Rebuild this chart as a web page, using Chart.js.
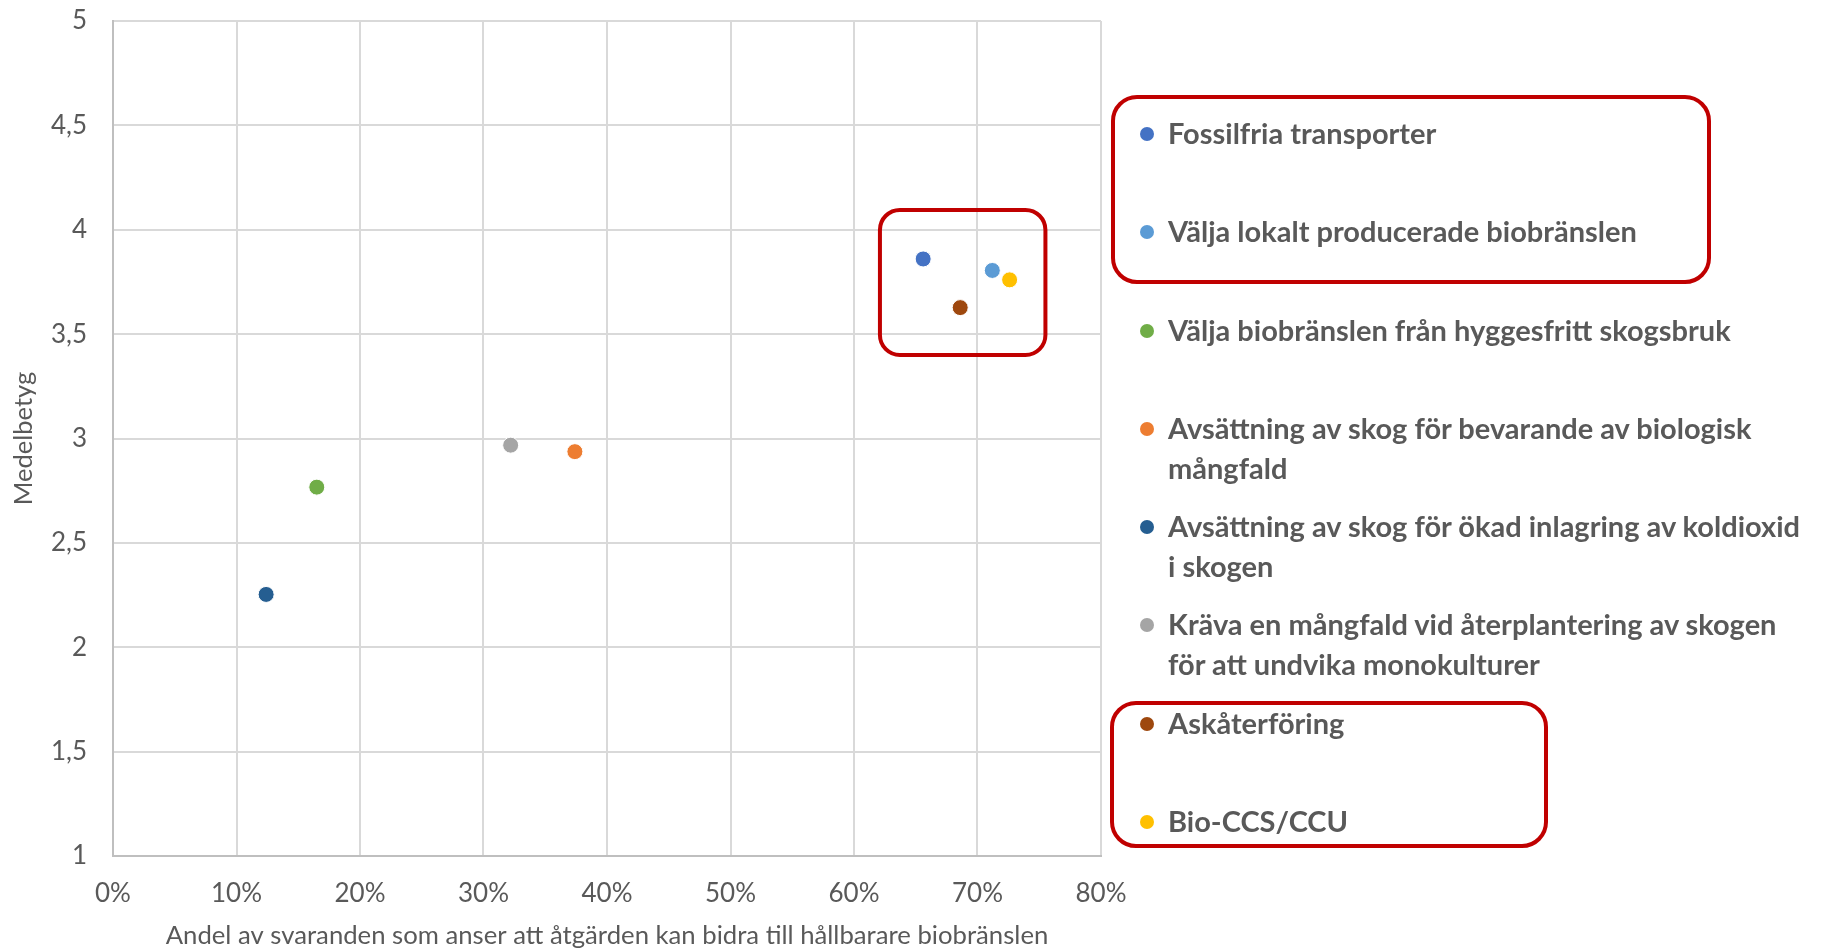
<!DOCTYPE html>
<html>
<head>
<meta charset="utf-8">
<title>Medelbetyg vs andel</title>
<script src="https://cdn.jsdelivr.net/npm/chart.js"></script>
<style>
    html, body { margin: 0; padding: 0; background: #fff; }
    body { width: 1844px; height: 951px; position: relative; overflow: hidden; font-family: Lato, "Open Sans", sans-serif; }
    #chartWrap { position: absolute; left: 0; top: 0; width: 1844px; height: 951px; }
    #legend { position: absolute; left: 1140px; top: 113px; }
    .item { position: relative; height: 98.3px; padding-left: 28px; color: #595959; font-weight: bold; font-size: 29px; line-height: 40px; white-space: nowrap; }
    .item .dot { position: absolute; left: 0; top: 14px; width: 14px; height: 14px; border-radius: 50%; }
    .hl { position: absolute; border: 4px solid #C00000; border-radius: 26px; box-sizing: border-box; }
</style>
</head>
<body>
<div id="chartWrap"><canvas id="scatter"></canvas></div>
<div id="legend"></div>
<div class="hl" style="left:1111px; top:95px; width:600px; height:189px;"></div>
<div class="hl" style="left:1110px; top:701px; width:438px; height:147px;"></div>

<script>
    // data
    const seriesNames = [
        ['Fossilfria transporter'],
        ['Välja lokalt producerade biobränslen'],
        ['Välja biobränslen från hyggesfritt skogsbruk'],
        ['Avsättning av skog för bevarande av biologisk', 'mångfald'],
        ['Avsättning av skog för ökad inlagring av koldioxid', 'i skogen'],
        ['Kräva en mångfald vid återplantering av skogen', 'för att undvika monokulturer'],
        ['Askåterföring'],
        ['Bio-CCS/CCU']
    ];
    const shareValues = [0.656, 0.712, 0.165, 0.374, 0.124, 0.322, 0.686, 0.726];
    const meanScores = [3.86, 3.805, 2.767, 2.937, 2.253, 2.968, 3.627, 3.76];
    const seriesColors = ['#4472C4', '#5B9BD5', '#70AD47', '#ED7D31', '#255E91', '#A5A5A5', '#9E480E', '#FFC000'];

    const xTicks = [0, 0.1, 0.2, 0.3, 0.4, 0.5, 0.6, 0.7, 0.8];
    const xTickLabels = ['0%', '10%', '20%', '30%', '40%', '50%', '60%', '70%', '80%'];
    const yTicks = [1, 1.5, 2, 2.5, 3, 3.5, 4, 4.5, 5];
    const yTickLabels = ['1', '1,5', '2', '2,5', '3', '3,5', '4', '4,5', '5'];

    // highlighted cluster (axis units)
    const highlightX = [0.621, 0.755];
    const highlightY = [3.40, 4.095];

    const FONT = 'Lato, "Open Sans", sans-serif';

    // red rounded box around the cluster
    const highlightPlugin = {
        id: 'highlight',
        afterDatasetsDraw(chart) {
            const { ctx, scales: { x, y } } = chart;
            const x0 = x.getPixelForValue(highlightX[0]);
            const x1 = x.getPixelForValue(highlightX[1]);
            const y0 = y.getPixelForValue(highlightY[1]);
            const y1 = y.getPixelForValue(highlightY[0]);
            ctx.save();
            ctx.strokeStyle = '#C00000';
            ctx.lineWidth = 4;
            ctx.beginPath();
            ctx.roundRect(x0, y0, x1 - x0, y1 - y0, 20);
            ctx.stroke();
            ctx.restore();
        }
    };

    const datasets = seriesNames.map((name, i) => ({
        label: name.join(' '),
        data: [{ x: shareValues[i], y: meanScores[i] }],
        backgroundColor: seriesColors[i],
        borderColor: '#ffffff',
        borderWidth: 1,
        pointRadius: 8,
        pointHoverRadius: 8
    }));

    new Chart(document.getElementById('scatter'), {
        type: 'scatter',
        data: { datasets: datasets },
        options: {
            responsive: true,
            maintainAspectRatio: false,
            animation: false,
            layout: { padding: { left: 8, right: 743, top: 21, bottom: 0 } },
            plugins: {
                legend: { display: false },
                tooltip: { enabled: false }
            },
            scales: {
                x: {
                    type: 'linear',
                    min: 0, max: 0.8,
                    afterBuildTicks: s => { s.ticks = xTicks.map(v => ({ value: v })); },
                    afterFit: s => { s.height = 95; },
                    ticks: {
                        callback: (v, i) => xTickLabels[i],
                        color: '#595959',
                        font: { family: FONT, size: 26 },
                        padding: 22
                    },
                    grid: { color: '#D9D9D9', lineWidth: 2, drawTicks: false },
                    border: { color: '#BFBFBF', width: 2 },
                    title: {
                        display: true,
                        text: 'Andel av svaranden som anser att åtgärden kan bidra till hållbarare biobränslen',
                        color: '#595959',
                        font: { family: FONT, size: 25.7 },
                        padding: { top: 2, bottom: 0 }
                    }
                },
                y: {
                    type: 'linear',
                    min: 1, max: 5,
                    afterBuildTicks: s => { s.ticks = yTicks.map(v => ({ value: v })); },
                    afterFit: s => { s.width = 105; s.paddingTop = 0; s.paddingBottom = 0; },
                    ticks: {
                        callback: (v, i) => yTickLabels[i],
                        color: '#595959',
                        font: { family: FONT, size: 26 },
                        padding: 26
                    },
                    grid: { color: '#D9D9D9', lineWidth: 2, drawTicks: false },
                    border: { color: '#BFBFBF', width: 2 },
                    title: {
                        display: true,
                        text: 'Medelbetyg',
                        color: '#595959',
                        font: { family: FONT, size: 25.5 },
                        padding: 0
                    }
                }
            }
        },
        plugins: [highlightPlugin]
    });

    // legend as html, built from the same arrays
    const legend = document.getElementById('legend');
    seriesNames.forEach((lines, i) => {
        const item = document.createElement('div');
        item.className = 'item';
        item.innerHTML = '<span class="dot" style="background:' + seriesColors[i] + '"></span>' + lines.join('<br>');
        legend.appendChild(item);
    });
</script>
</body>
</html>
